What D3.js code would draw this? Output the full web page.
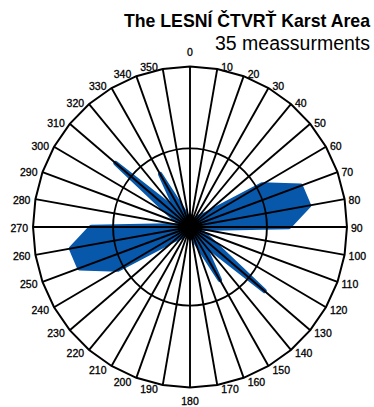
<!DOCTYPE html>
<html><head><meta charset="utf-8">
<script src="https://cdn.jsdelivr.net/npm/d3@7"></script>
<style>html,body{margin:0;padding:0;background:#fff;} svg{display:block;}</style>
</head><body>
<svg id="chart" width="374" height="407"></svg>
<script>
// ---- data ----
const directions = [0,10,20,30,40,50,60,70,80,90,100,110,120,130,140,150,160,170,
                    180,190,200,210,220,230,240,250,260,270,280,290,300,310,320,330,340,350];
const frequencies = [0.4,0.4,0.4,0.5,0.8,1.2,5.3,7.5,7.7,6.3,0.6,0.7,1.4,6.2,1.3,3.8,1.0,0.5,
                     0.4,0.4,0.4,0.5,0.8,1.2,5.3,7.5,7.7,6.3,0.6,0.7,1.4,6.2,1.3,3.8,1.0,0.5];
const ringValues = [4.9, 10];
const tickLabels = ["0","10","20","30","40","50","60","70","80","90","100","110","120","130","140","150","160","170",
                    "180","190","200","210","220","230","240","250","260","270","280","290","300","310","320","330","340","350"];
const titleText = "The LESNÍ ČTVRŤ Karst Area";
const subtitleText = "35 meassurments";

// ---- layout ----
const cx = 190, cy = 227, ry = 160.5, kx = 0.978;
const svg = d3.select("#chart");
const r = d3.scaleLinear().domain([0, 10]).range([0, ry]);
const ang = d3.scaleLinear().domain([0, 360]).range([0, 2 * Math.PI]);
const pt = (deg, rad) => { const a = ang(deg); return [cx + rad * Math.sin(a) * kx, cy - rad * Math.cos(a)]; };

const closed = d3.line().curve(d3.curveLinearClosed);

// rose polygon
svg.append("path")
  .attr("d", closed(directions.map((d, i) => pt(d, r(frequencies[i])))))
  .attr("fill", "#0758ab")
  .attr("stroke", "#0758ab").attr("stroke-width", 4.5).attr("stroke-linejoin", "round");

// radial lines
svg.append("g").selectAll("line").data(directions).join("line")
  .attr("x1", cx).attr("y1", cy)
  .attr("x2", d => pt(d, r(10))[0]).attr("y2", d => pt(d, r(10))[1])
  .attr("stroke", "#000").attr("stroke-width", 1.9);

// rings
svg.append("ellipse")
  .attr("cx", cx).attr("cy", cy)
  .attr("rx", r(ringValues[0]) * kx).attr("ry", r(ringValues[0]))
  .attr("fill", "none").attr("stroke", "#000").attr("stroke-width", 1.9);
svg.append("path")
  .attr("d", closed(directions.map(d => pt(d, r(ringValues[1])))))
  .attr("fill", "none").attr("stroke", "#000").attr("stroke-width", 2);

// center diamond
svg.append("path")
  .attr("d", closed([[cx, cy - 14], [cx + 12, cy], [cx, cy + 14], [cx - 12, cy]]))
  .attr("fill", "#000");

// labels
svg.append("g").selectAll("text").data(directions).join("text")
  .attr("font-family", "Liberation Sans, Arial, sans-serif")
  .attr("font-size", 10.5)
  .attr("fill", "#000").attr("stroke", "#000").attr("stroke-width", 0.3)
  .attr("dominant-baseline", "central")
  .each(function(d, i) {
    const [x, y] = pt(d, r(10));
    const s = Math.sin(ang(d)), c = Math.cos(ang(d));
    const t = d3.select(this).text(tickLabels[i]);
    if (d === 0) { t.attr("x", x).attr("y", y - 15).attr("text-anchor", "middle"); }
    else if (d === 180) { t.attr("x", x).attr("y", y + 13.5).attr("text-anchor", "middle"); }
    else {
      t.attr("x", x + (s > 0 ? 4 : -5))
       .attr("y", y - 3 * c + 1)
       .attr("text-anchor", s > 0 ? "start" : "end");
    }
  });

// titles
svg.append("text").attr("x", 370).attr("y", 27)
  .attr("text-anchor", "end")
  .attr("font-family", "Liberation Sans, Arial, sans-serif")
  .attr("font-weight", "bold").attr("font-size", 17.7)
  .attr("fill", "#000").text(titleText);
svg.append("text").attr("x", 370).attr("y", 50)
  .attr("text-anchor", "end")
  .attr("font-family", "Liberation Sans, Arial, sans-serif")
  .attr("font-size", 19.5)
  .attr("fill", "#000").text(subtitleText);
</script>
</body></html>
